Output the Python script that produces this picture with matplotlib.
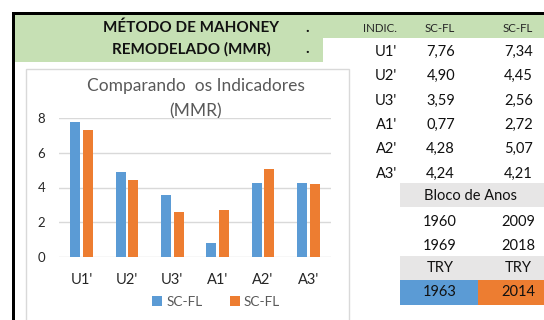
import matplotlib
matplotlib.use("Agg")
import matplotlib.pyplot as plt
from matplotlib.patches import Rectangle
import numpy as np

plt.rcParams['font.family'] = ['Lato', 'DejaVu Sans']

# Data
categories = ["U1'", "U2'", "U3'", "A1'", "A2'", "A3'"]
series_names = ["SC-FL", "SC-FL"]
sc_fl_1960 = [7.76, 4.90, 3.59, 0.77, 4.28, 4.24]
sc_fl_2009 = [7.34, 4.45, 2.56, 2.72, 5.07, 4.21]
y_ticks = [0, 2, 4, 6, 8]
block_start = [1960, 2009]
block_end = [1969, 2018]
try_years = [1963, 2014]

BLUE = "#5B9BD5"
ORANGE = "#ED7D31"
GREEN = "#C6E0B4"
GRAY_BAND = "#E7E6E6"
GRID = "#D9D9D9"
INK = "#111111"

W, H = 544, 320
fig = plt.figure(figsize=(W / 100, H / 100), dpi=100)

# Background sheet in pixel coordinates
bg = fig.add_axes([0, 0, 1, 1])
bg.set_xlim(0, W)
bg.set_ylim(H, 0)
bg.axis("off")

def rect(x0, y0, x1, y1, color, ec="none", lw=0, z=1):
    bg.add_patch(Rectangle((x0, y0), x1 - x0, y1 - y0, facecolor=color,
                           edgecolor=ec, linewidth=lw, zorder=z))

# Header band
rect(15, 15, W, 37.5, GREEN)
rect(15, 37, 323, 62, GREEN)
# Heavy border
rect(12, 12, W, 15, "black", z=3)
rect(12, 12, 15, H, "black", z=3)

for y, txt in [(28, "MÉTODO DE MAHONEY"), (49, "REMODELADO (MMR)")]:
    bg.text(191, y, txt, ha="center", va="center", fontsize=11,
            fontweight="bold", color=INK)
    bg.text(307, y, ".", ha="center", va="center", fontsize=11,
            fontweight="bold", color=INK)

# Chart frame
rect(26, 69, 349, 330, "white", ec=GRID, lw=1, z=1)

# Table of indicators
col_label_x, col_a_x, col_b_x = 397, 455, 533
bg.text(col_label_x, 29, "INDIC.", ha="right", va="center", fontsize=8.3, color="#262626")
bg.text(col_a_x, 29, series_names[0], ha="right", va="center", fontsize=8.3, color="#262626")
bg.text(col_b_x, 29, series_names[1], ha="right", va="center", fontsize=8.3, color="#262626")

row_y0, row_dy = 52, 24.3
for i, cat in enumerate(categories):
    y = row_y0 + i * row_dy
    bg.text(col_label_x, y, cat, ha="right", va="center", fontsize=10.5, color=INK)
    bg.text(col_a_x, y, f"{sc_fl_1960[i]:.2f}".replace(".", ","), ha="right",
            va="center", fontsize=10.5, color=INK)
    bg.text(col_b_x, y, f"{sc_fl_2009[i]:.2f}".replace(".", ","), ha="right",
            va="center", fontsize=10.5, color=INK)

# Year block
rect(400, 183, W, 207, GRAY_BAND)
bg.text(471, 196, "Bloco de Anos", ha="center", va="center", fontsize=10.5, color=INK)
cx = [440, 518.5]
for j in range(2):
    bg.text(cx[j], 222, str(block_start[j]), ha="center", va="center", fontsize=10.5, color=INK)
    bg.text(cx[j], 246, str(block_end[j]), ha="center", va="center", fontsize=10.5, color=INK)
rect(400, 256, W, 280, GRAY_BAND)
for j in range(2):
    bg.text(cx[j], 268, "TRY", ha="center", va="center", fontsize=10.5, color=INK)
rect(400, 280, 478, 305, BLUE)
rect(478, 280, W, 305, ORANGE)
for j in range(2):
    bg.text(cx[j], 292.5, str(try_years[j]), ha="center", va="center", fontsize=10.5, color=INK)

# Chart title
bg.text(196, 86, "Comparando  os Indicadores", ha="center", va="center",
        fontsize=12.5, color="#595959", zorder=5)
bg.text(196, 111, "(MMR)", ha="center", va="center",
        fontsize=12.5, color="#595959", zorder=5)

# Bar chart
px_l, px_r, px_t, px_b = 59, 331, 118.3, 256.7
ax = fig.add_axes([px_l / W, 1 - px_b / H, (px_r - px_l) / W, (px_b - px_t) / H])
ax.patch.set_alpha(0)
x = np.arange(len(categories))
bw = 0.22
off = 0.143
b1 = ax.bar(x - off, sc_fl_1960, bw, color=BLUE, label=series_names[0], zorder=3)
b2 = ax.bar(x + off, sc_fl_2009, bw, color=ORANGE, label=series_names[1], zorder=3)
ax.set_xlim(-0.5, len(categories) - 0.5)
ax.set_ylim(0, 8)
ax.set_yticks(y_ticks)
ax.set_yticklabels([str(v) for v in y_ticks], fontsize=9.5, color="#262626")
ax.set_xticks(x)
ax.set_xticklabels(categories, fontsize=10.5, color="#262626")
ax.tick_params(axis="both", length=0)
ax.tick_params(axis="y", pad=10)
ax.tick_params(axis="x", pad=12)
for s in ax.spines.values():
    s.set_visible(False)
ax.grid(axis="y", color=GRID, linewidth=1, zorder=0)
ax.set_axisbelow(True)

leg = fig.legend(handles=[b1, b2], loc="center", bbox_to_anchor=(216 / W, 1 - 301.5 / H),
                 ncol=2, frameon=False, fontsize=9.8, handlelength=0.75,
                 handleheight=0.75, handletextpad=0.3, columnspacing=2.0)
for t in leg.get_texts():
    t.set_color("#595959")

fig.savefig("out.png", dpi=100)
